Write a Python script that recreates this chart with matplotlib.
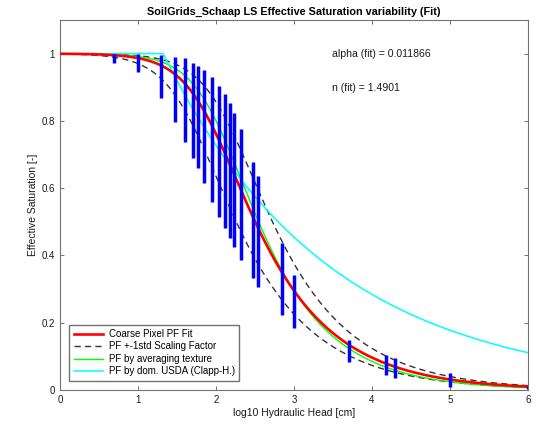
import numpy as np
import matplotlib
matplotlib.use("Agg")
import matplotlib.pyplot as plt

plt.rcParams['font.family'] = ['Liberation Sans', 'DejaVu Sans']

# van Genuchten fit of the coarse pixel
alpha_fit = 0.011866
n_fit = 1.4901
# +-1 std scaling of alpha (lower / upper curve)
scale_lo = 1.75
scale_hi = 0.60
# averaged texture parameters
alpha_avg = 0.0092
n_avg = 1.545
# Clapp-Hornberger (dominant USDA class)
psi_b = 21.0
b_ch = 4.9

# pedotransfer spread per head (log10 h, max / min Se)
bar_x = [0.69, 1.0, 1.30, 1.48, 1.60, 1.70, 1.77, 1.85, 1.95, 2.04, 2.11, 2.18,
         2.23, 2.32, 2.48, 2.54, 2.85, 3.0, 3.70, 4.18, 4.30, 5.0, 6.0]
bar_top = [1.0, 1.0, 0.996, 0.990, 0.986, 0.973, 0.963, 0.951, 0.929, 0.903, 0.880, 0.852,
           0.824, 0.775, 0.678, 0.636, 0.436, 0.342, 0.149, 0.104, 0.094, 0.051, 0.013]
bar_bot = [0.973, 0.944, 0.867, 0.797, 0.738, 0.689, 0.659, 0.614, 0.560, 0.515, 0.481, 0.451,
           0.426, 0.386, 0.332, 0.307, 0.223, 0.183, 0.084, 0.045, 0.035, 0.008, 0.002]


def vg(h, a, n):
    m = 1 - 1/n
    return (1 + (a*h)**n)**(-m)


def ch(h, psib, b):
    return np.where(h < psib, 1.0, (h/psib)**(-1/b))


x = np.linspace(0, 6, 1200)
h = 10**x

fig = plt.figure(figsize=(5.36, 4.25), dpi=100)
ax = fig.add_axes([0.112, 0.0824, 0.873, 0.8706])

ax.plot(x, vg(h, alpha_fit, n_fit), color='red', lw=1.9, label='Coarse Pixel PF Fit', zorder=3)
ax.plot(x, vg(h, alpha_fit*scale_lo, n_fit), color='0.2', lw=1.0, dashes=(4.5, 3),
        label='PF +-1std Scaling Factor', zorder=2)
ax.plot(x, vg(h, alpha_fit*scale_hi, n_fit), color='0.2', lw=1.0, dashes=(4.5, 3), zorder=2)
ax.plot(x, vg(h, alpha_avg, n_avg), color='#00ff00', lw=1.0, label='PF by averaging texture', zorder=2)
ax.plot(x, ch(h, psi_b, b_ch), color='cyan', lw=1.1, label='PF by dom. USDA (Clapp-H.)', zorder=2)

ax.vlines(bar_x, bar_bot, bar_top, color='blue', lw=2.5, zorder=4, capstyle='butt')

ax.text(3.49, 1.0, 'alpha (fit) = 0.011866', fontsize=7.6, va='center', color='0.1')
ax.text(3.49, 0.898, 'n (fit) = 1.4901', fontsize=7.6, va='center', color='0.1')

ax.set_xlim(0, 6)
ax.set_ylim(0, 1.1)
ax.set_xticks(range(7))
ax.set_yticks([0, 0.2, 0.4, 0.6, 0.8, 1.0])
ax.set_yticklabels(['0', '0.2', '0.4', '0.6', '0.8', '1'])
ax.tick_params(direction='in', top=True, right=True, length=3, width=0.6,
               labelsize=7, colors='0.35', labelcolor='0.1')
for s in ax.spines.values():
    s.set_color('0.45')
    s.set_linewidth(0.8)

ax.set_xlabel('log10 Hydraulic Head [cm]', fontsize=7.5, color='0.1', labelpad=2)
ax.set_ylabel('Effective Saturation [-]', fontsize=7.5, color='0.1', labelpad=3)
ax.set_title('SoilGrids_Schaap LS Effective Saturation variability (Fit)', fontsize=7.8,
             fontweight='bold', pad=4)

leg = ax.legend(loc='lower left', bbox_to_anchor=(0.02, 0.025), fontsize=7, frameon=True,
                fancybox=False, handlelength=3.0, borderpad=0.45, labelspacing=0.25,
                handletextpad=0.6, borderaxespad=0)
leg.get_frame().set_edgecolor('0.3')
leg.get_frame().set_linewidth(1.0)

fig.savefig('out.png', dpi=100)
